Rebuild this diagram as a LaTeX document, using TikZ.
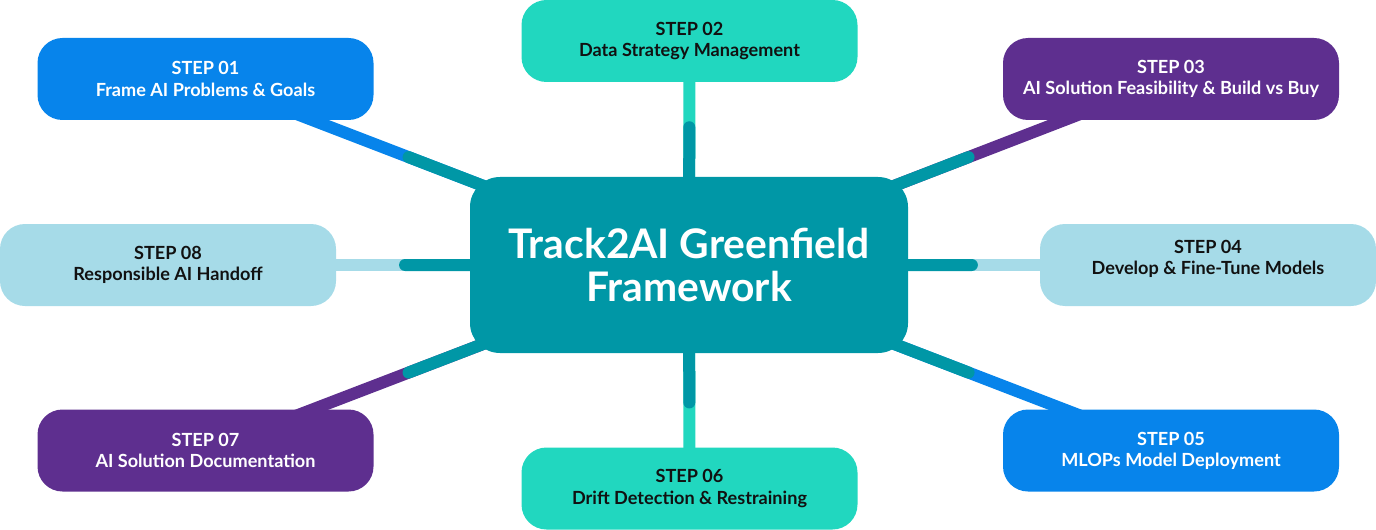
\documentclass[tikz,border=0pt]{standalone}
\usepackage{fontspec}
\setmainfont{Lato}
\usetikzlibrary{calc}
\usetikzlibrary{backgrounds}

\definecolor{stepblue}{HTML}{0784EB}
\definecolor{stepmint}{HTML}{21D7BF}
\definecolor{steppurple}{HTML}{5E2F8F}
\definecolor{steplight}{HTML}{A6DBE8}
\definecolor{hubteal}{HTML}{0097A6}
\definecolor{steptext}{HTML}{111111}

\begin{document}
\begin{tikzpicture}[
  stepbox/.style={rectangle,minimum width=6.72cm,minimum height=1.64cm,rounded corners=0.5cm,align=center,inner sep=0pt,font=\fontsize{10.3}{12}\selectfont\bfseries},
  darkstep/.style={stepbox,text=steptext},
  lightstep/.style={stepbox,text=white},
  hubbox/.style={rectangle,fill=hubteal,minimum width=8.76cm,minimum height=3.52cm,rounded corners=0.6cm,align=center,inner sep=0pt,text=white,font=\fontsize{23.2}{24.5}\selectfont\bfseries},
  link/.style={line width=0.24cm},
  hublink/.style={line width=0.24cm,draw=hubteal,line cap=round}
  ]

\useasboundingbox (0,0) rectangle (27.52,-10.6);

\node[hubbox] (hub) at (13.78,-5.3) {Track2AI Greenfield\\Framework};

\node[lightstep,fill=stepblue] (s01) at (4.11,-1.58) {STEP 01\\Frame AI Problems \& Goals};
\node[darkstep,fill=stepmint] (s02) at (13.79,-0.82) {STEP 02\\Data Strategy Management};
\node[lightstep,fill=steppurple] (s03) at (23.42,-1.58) {STEP 03\\AI Solution Feasibility \& Build vs Buy};
\node[darkstep,fill=steplight,text depth=8.7pt] (s04) at (24.16,-5.3) {STEP 04\\Develop \& Fine-Tune Models};
\node[lightstep,fill=stepblue] (s05) at (23.42,-9.01) {STEP 05\\MLOPs Model Deployment};
\node[darkstep,fill=stepmint] (s06) at (13.79,-9.77) {STEP 06\\Drift Detection \& Restraining};
\node[lightstep,fill=steppurple] (s07) at (4.11,-9.01) {STEP 07\\AI Solution Documentation};
\node[darkstep,fill=steplight] (s08) at (3.36,-5.3) {STEP 08\\Responsible AI Handoff};

% connectors, outer half in the step colour
\begin{scope}[on background layer]
\draw[link,stepblue] (s01.center) -- (hub.center);
\draw[link,stepmint] (s02.center) -- (hub.center);
\draw[link,steppurple] (s03.center) -- (hub.center);
\draw[link,steplight] (s04.center) -- (hub.center);
\draw[link,stepblue] (s05.center) -- (hub.center);
\draw[link,stepmint] (s06.center) -- (hub.center);
\draw[link,steppurple] (s07.center) -- (hub.center);
\draw[link,steplight] (s08.center) -- (hub.center);

\draw[hublink] (hub.center) -- ($(s01.center)!0.42!(hub.center)$);
\draw[hublink] (hub.center) -- ($(s02.center)!0.385!(hub.center)$);
\draw[hublink] (hub.center) -- ($(s03.center)!0.42!(hub.center)$);
\draw[hublink] (hub.center) -- ($(s04.center)!0.455!(hub.center)$);
\draw[hublink] (hub.center) -- ($(s05.center)!0.42!(hub.center)$);
\draw[hublink] (hub.center) -- ($(s06.center)!0.385!(hub.center)$);
\draw[hublink] (hub.center) -- ($(s07.center)!0.42!(hub.center)$);
\draw[hublink] (hub.center) -- ($(s08.center)!0.455!(hub.center)$);
\end{scope}

\end{tikzpicture}
\end{document}
